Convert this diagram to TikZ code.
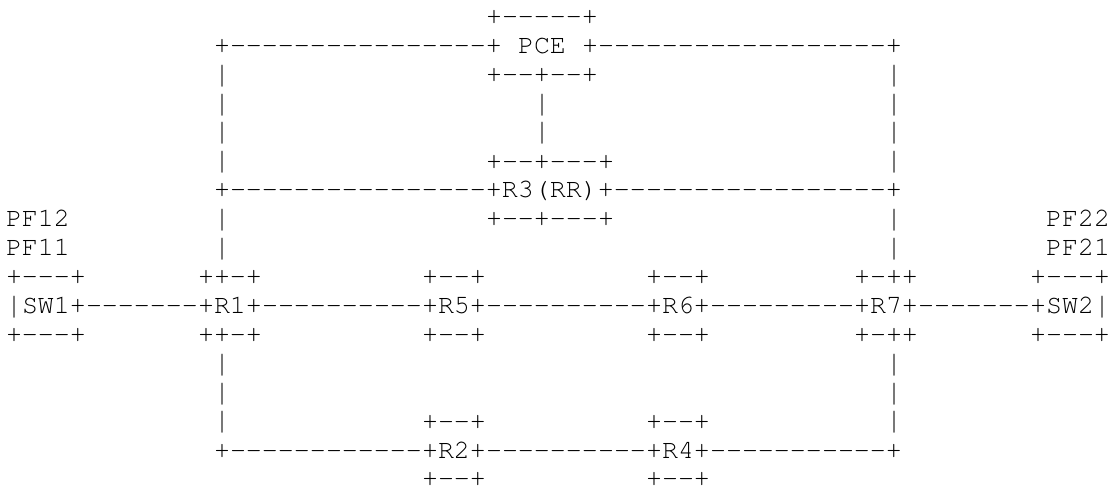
\documentclass[tikz,border=0pt]{standalone}
\usepackage[T1]{fontenc}
\usepackage{graphicx}
\renewcommand\ttdefault{pcr}
\def\mcharsend{\mcharsend}
\def\mchars#1{\mcharsloop#1\mcharsend}
\def\mcharsloop#1{\ifx#1\mcharsend\else
  \if#1|\makebox[8pt]{\raisebox{-0.4pt}{\scalebox{1}[1.14]{|}}}%
  \else\makebox[8pt]{#1}\fi
  \expandafter\mcharsloop\fi}
\tikzset{txt/.style={anchor=base west, inner sep=0pt, outer sep=0pt,
  font=\fontsize{13.33pt}{14.45pt}\selectfont\ttfamily}}
\newcommand\seg[4]{\node[txt] (#1) at (#2,#3-1) {\mchars{#4}};}
\begin{document}
\begin{tikzpicture}[x=8pt,y=-14.45pt]
\useasboundingbox (-3pt,12.25pt) rectangle (551.5pt,-235.25pt);
% line 1
\seg{pcetop}{30}{1}{+-----+}
% line 2
\seg{pcelinkl}{13}{2}{+----------------+}
\seg{pce}{32}{2}{PCE}
\seg{pcelinkr}{36}{2}{+------------------+}
% line 3
\seg{v3l}{13}{3}{|}
\seg{pcebot}{30}{3}{+--+--+}
\seg{v3r}{55}{3}{|}
% lines 4-5
\seg{v4l}{13}{4}{|}
\seg{v4m}{33}{4}{|}
\seg{v4r}{55}{4}{|}
\seg{v5l}{13}{5}{|}
\seg{v5m}{33}{5}{|}
\seg{v5r}{55}{5}{|}
% line 6
\seg{v6l}{13}{6}{|}
\seg{r3top}{30}{6}{+--+---+}
\seg{v6r}{55}{6}{|}
% line 7
\seg{r3}{13}{7}{+----------------+R3(RR)+-----------------+}
% line 8
\seg{pf12}{0}{8}{PF12}
\seg{v8l}{13}{8}{|}
\seg{r3bot}{30}{8}{+--+---+}
\seg{v8r}{55}{8}{|}
\seg{pf22}{65}{8}{PF22}
% line 9
\seg{pf11}{0}{9}{PF11}
\seg{v9l}{13}{9}{|}
\seg{v9r}{55}{9}{|}
\seg{pf21}{65}{9}{PF21}
% line 10
\seg{sw1top}{0}{10}{+---+}
\seg{r1top}{12}{10}{++-+}
\seg{r5top}{26}{10}{+--+}
\seg{r6top}{40}{10}{+--+}
\seg{r7top}{53}{10}{+-++}
\seg{sw2top}{64}{10}{+---+}
% line 11
\seg{sw1}{0}{11}{|SW1+}
\seg{l11a}{5}{11}{-------}
\seg{r1}{12}{11}{+R1+}
\seg{l11b}{16}{11}{----------}
\seg{r5}{26}{11}{+R5+}
\seg{l11c}{30}{11}{----------}
\seg{r6}{40}{11}{+R6+}
\seg{l11d}{44}{11}{---------}
\seg{r7}{53}{11}{+R7+}
\seg{l11e}{57}{11}{-------}
\seg{sw2}{64}{11}{+SW2|}
% line 12
\seg{sw1bot}{0}{12}{+---+}
\seg{r1bot}{12}{12}{++-+}
\seg{r5bot}{26}{12}{+--+}
\seg{r6bot}{40}{12}{+--+}
\seg{r7bot}{53}{12}{+-++}
\seg{sw2bot}{64}{12}{+---+}
% lines 13-15
\seg{v13l}{13}{13}{|}
\seg{v13r}{55}{13}{|}
\seg{v14l}{13}{14}{|}
\seg{v14r}{55}{14}{|}
\seg{v15l}{13}{15}{|}
\seg{r2top}{26}{15}{+--+}
\seg{r4top}{40}{15}{+--+}
\seg{v15r}{55}{15}{|}
% line 16
\seg{l16a}{13}{16}{+------------}
\seg{r2}{26}{16}{+R2+}
\seg{l16b}{30}{16}{----------}
\seg{r4}{40}{16}{+R4+}
\seg{l16c}{44}{16}{-----------+}
% line 17
\seg{r2bot}{26}{17}{+--+}
\seg{r4bot}{40}{17}{+--+}
\end{tikzpicture}
\end{document}
